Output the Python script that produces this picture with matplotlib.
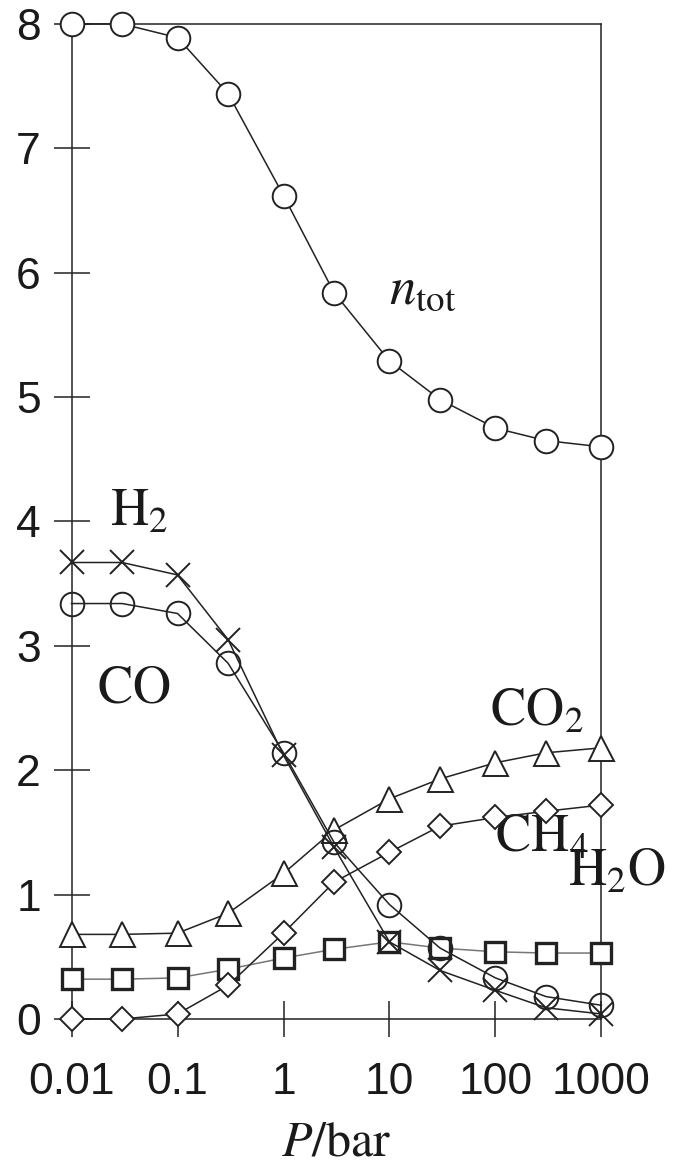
import matplotlib
matplotlib.use('Agg')
import matplotlib.pyplot as plt

plt.rcParams['font.family'] = ['Liberation Sans', 'DejaVu Sans']
plt.rcParams['mathtext.fontset'] = 'stix'

# pressure in bar
P = [0.01, 0.03, 0.1, 0.3, 1, 3, 10, 30, 100, 300, 1000]

# moles at equilibrium
n_tot = [8.00, 8.00, 7.89, 7.44, 6.62, 5.84, 5.29, 4.98, 4.75, 4.65, 4.60]
n_H2 = [3.67, 3.67, 3.57, 3.05, 2.12, 1.38, 0.62, 0.39, 0.23, 0.09, 0.04]
n_CO = [3.34, 3.34, 3.26, 2.86, 2.14, 1.42, 0.92, 0.57, 0.33, 0.18, 0.11]
n_CO2 = [0.68, 0.68, 0.69, 0.85, 1.17, 1.52, 1.77, 1.93, 2.06, 2.14, 2.18]
n_CH4 = [0.00, 0.00, 0.04, 0.27, 0.69, 1.10, 1.34, 1.55, 1.62, 1.67, 1.72]
n_H2O = [0.32, 0.32, 0.33, 0.40, 0.49, 0.56, 0.62, 0.57, 0.54, 0.53, 0.53]

xticks = [0.01, 0.1, 1, 10, 100, 1000]
xticklabels = ['0.01', '0.1', '1', '10', '100', '1000']

fig = plt.figure(figsize=(6.75, 11.68), dpi=100)
ax = fig.add_axes([0.106, 0.1276, 0.785, 0.8519])

lc = '#222222'
common = dict(color=lc, lw=1.1, mfc='white', mec=lc, clip_on=False)

ax.plot(P, n_H2O, marker='s', ms=15, mew=2.4, zorder=3,
        **{**common, 'color': '#777777'})
ax.plot(P, n_CH4, marker='D', ms=12, mew=1.4, zorder=4, **common)
ax.plot(P, n_CO2, marker='^', ms=18, mew=1.4, zorder=4, **common)
ax.plot(P, n_H2, marker='x', ms=17, mew=1.4, zorder=5,
        **{**common, 'mfc': 'none'})
ax.plot(P, n_CO, marker='o', ms=17, mew=1.4, zorder=5,
        **{**common, 'mfc': 'none'})
ax.plot(P, n_tot, marker='o', ms=17, mew=1.4, zorder=5, **common)

ax.set_xscale('log')
ax.set_xlim(0.01, 1000)
ax.set_ylim(0, 8)
ax.set_xticks(xticks)
ax.set_xticklabels(xticklabels)
ax.minorticks_off()
ax.set_yticks(range(0, 9))
ax.tick_params(axis='both', direction='inout', length=26, width=1.1,
               colors=lc, labelsize=32, labelcolor='#1a1a1a')
ax.tick_params(axis='y', pad=9)
ax.tick_params(axis='x', pad=18)
for s in ax.spines.values():
    s.set_linewidth(1.1)
    s.set_color(lc)

ax.set_xlabel(r'$P/\mathrm{bar}$', fontsize=36, color='#1a1a1a', labelpad=12)

tkw = dict(fontsize=38, color='#1a1a1a', va='center', ha='left')
ax.text(10, 5.86, r'$n_{\mathrm{tot}}$', **tkw)
ax.text(0.023, 4.08, r'$\mathrm{H_2}$', **tkw)
ax.text(0.0172, 2.66, r'$\mathrm{CO}$', **tkw)
ax.text(88, 2.47, r'$\mathrm{CO_2}$', **tkw)
ax.text(98, 1.46, r'$\mathrm{CH_4}$', **tkw)
ax.text(480, 1.18, r'$\mathrm{H_2O}$', **tkw)

fig.savefig('out.png', dpi=100)
